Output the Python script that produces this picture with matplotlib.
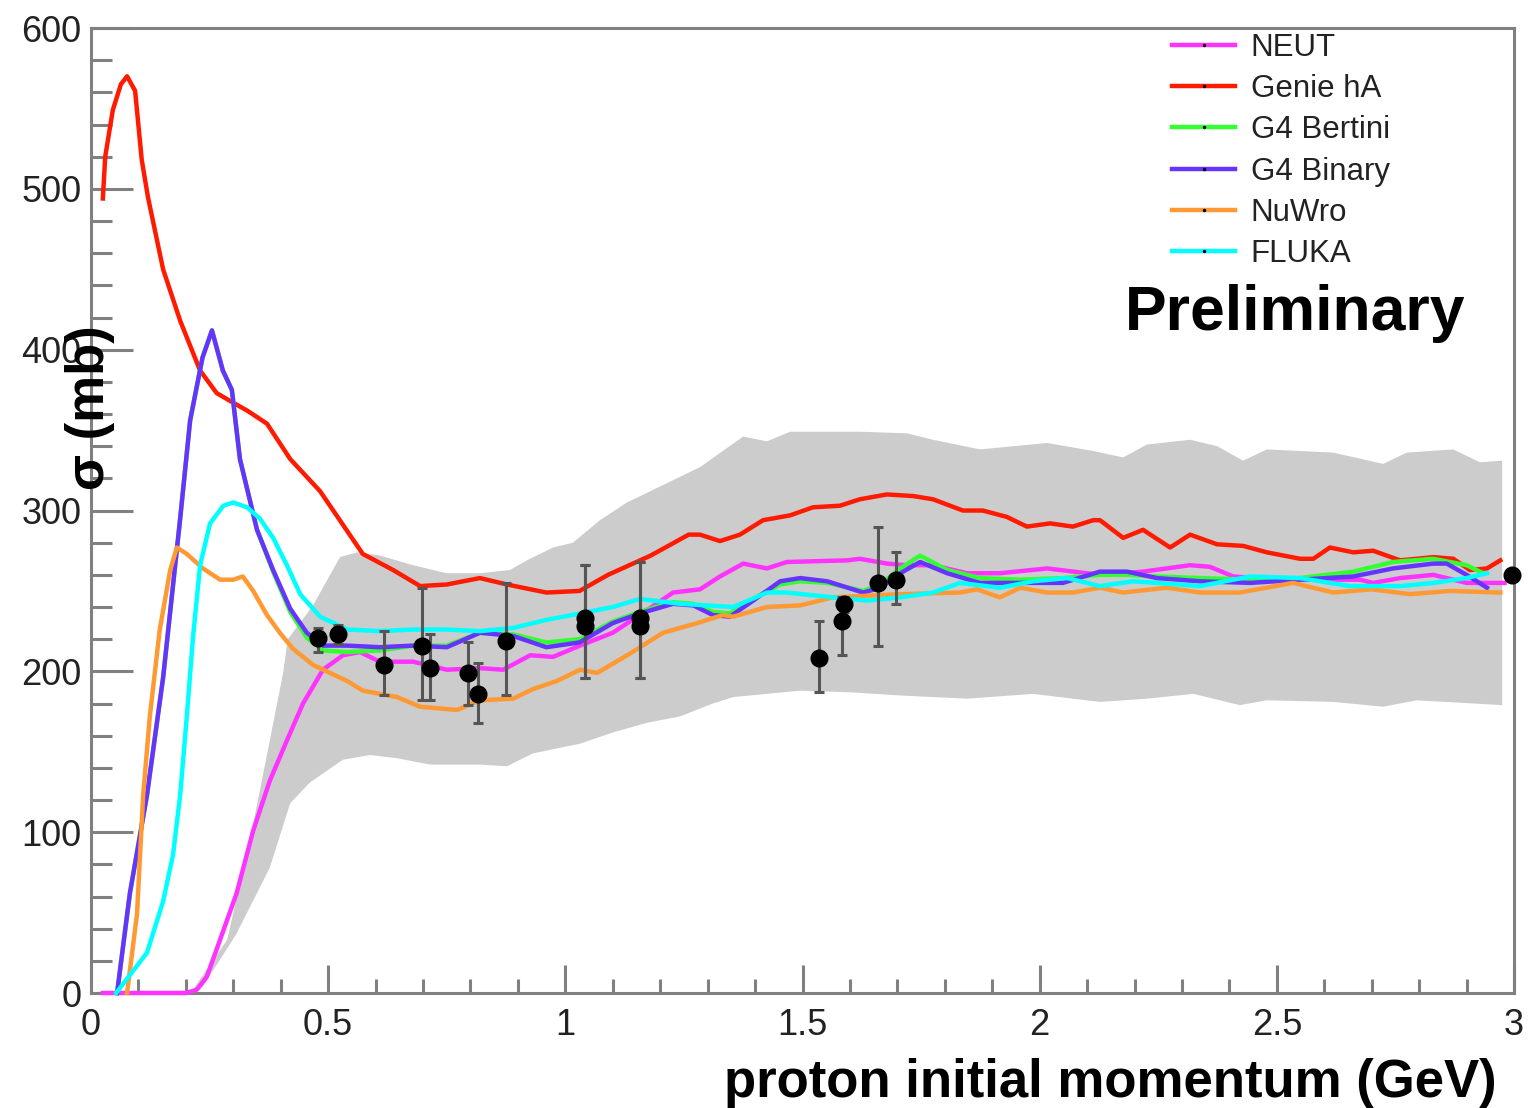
import matplotlib
matplotlib.use("Agg")
import matplotlib.pyplot as plt
from matplotlib.lines import Line2D
from matplotlib.ticker import MultipleLocator

plt.rcParams['font.family'] = ['Liberation Sans', 'DejaVu Sans']

# ---- model curves ----
genie_x = [0.025, 0.03, 0.046, 0.063, 0.076, 0.093, 0.107, 0.12, 0.152, 0.188, 0.23, 0.265, 0.30, 0.33,
           0.371, 0.42, 0.483, 0.573, 0.637, 0.694, 0.75, 0.82, 0.877, 0.96, 1.03, 1.09, 1.18, 1.26,
           1.284, 1.326, 1.368, 1.417, 1.474, 1.522, 1.579, 1.621, 1.678, 1.733, 1.775, 1.838, 1.88,
           1.931, 1.973, 2.022, 2.07, 2.113, 2.127, 2.176, 2.218, 2.275, 2.317, 2.374, 2.429, 2.479,
           2.549, 2.577, 2.612, 2.661, 2.703, 2.76, 2.83, 2.872, 2.907, 2.943, 2.971]
genie_y = [494, 520, 549, 565, 570, 561, 518, 495, 450, 418, 387, 373, 367, 362,
           354, 332, 312, 273, 263, 253, 254, 258, 254, 249, 250, 260, 272, 285,
           285, 281, 285, 294, 297, 302, 303, 307, 310, 309, 307, 300, 300,
           296, 290, 292, 290, 294, 294, 283, 288, 277, 285, 279, 278, 274,
           270, 270, 277, 274, 275, 269, 271, 270, 263, 264, 269]

neut_x = [0.025, 0.2, 0.223, 0.244, 0.272, 0.307, 0.342, 0.377, 0.413, 0.447, 0.489, 0.531, 0.567,
          0.609, 0.679, 0.75, 0.82, 0.869, 0.926, 0.974, 1.031, 1.1, 1.172, 1.227, 1.284, 1.326, 1.375,
          1.425, 1.467, 1.594, 1.621, 1.678, 1.72, 1.775, 1.847, 1.916, 2.016, 2.127, 2.218, 2.317,
          2.359, 2.408, 2.5, 2.675, 2.703, 2.76, 2.83, 2.9, 2.98]
neut_y = [0, 0, 2, 10, 33, 62, 101, 132, 157, 180, 201, 210, 212,
          206, 206, 201, 202, 201, 210, 209, 216, 224, 238, 249, 251, 259, 267,
          264, 268, 269, 270, 267, 266, 266, 261, 261, 264, 260, 262, 266,
          265, 259, 257, 257, 255, 258, 260, 255, 255]

bertini_x = [0.055, 0.082, 0.118, 0.152, 0.188, 0.209, 0.235, 0.255, 0.278, 0.297, 0.314, 0.35, 0.384,
             0.42, 0.455, 0.489, 0.54, 0.609, 0.679, 0.75, 0.82, 0.89, 0.96, 1.03, 1.1, 1.157, 1.227,
             1.27, 1.311, 1.347, 1.396, 1.453, 1.495, 1.552, 1.628, 1.664, 1.706, 1.748, 1.805, 1.874,
             1.959, 2.049, 2.127, 2.184, 2.247, 2.338, 2.444, 2.549, 2.661, 2.745, 2.83, 2.9, 2.935]
bertini_y = [0, 62, 123, 196, 295, 356, 395, 412, 387, 375, 332, 288, 262,
             237, 221, 213, 212, 213, 216, 216, 224, 223, 218, 220, 231, 237, 243,
             242, 237, 236, 245, 254, 256, 255, 250, 254, 264, 272, 263, 258,
             257, 258, 260, 260, 259, 258, 257, 258, 262, 268, 270, 266, 261]

binary_x = [0.055, 0.082, 0.118, 0.152, 0.188, 0.209, 0.235, 0.255, 0.278, 0.297, 0.314, 0.35, 0.384,
            0.42, 0.455, 0.489, 0.54, 0.609, 0.679, 0.75, 0.82, 0.89, 0.96, 1.03, 1.1, 1.157, 1.227,
            1.27, 1.311, 1.347, 1.396, 1.453, 1.495, 1.552, 1.628, 1.664, 1.706, 1.748, 1.805, 1.874,
            1.959, 2.049, 2.127, 2.184, 2.247, 2.338, 2.444, 2.549, 2.661, 2.745, 2.83, 2.858, 2.9, 2.943]
binary_y = [0, 62, 123, 196, 295, 356, 395, 412, 387, 375, 332, 288, 263,
            239, 224, 216, 216, 215, 216, 215, 224, 222, 215, 218, 230, 236, 242,
            241, 235, 234, 244, 256, 258, 256, 249, 252, 261, 268, 261, 255,
            255, 255, 262, 262, 258, 256, 255, 257, 259, 264, 267, 267, 260, 252]

nuwro_x = [0.076, 0.097, 0.11, 0.124, 0.145, 0.167, 0.181, 0.202, 0.236, 0.272, 0.3, 0.32, 0.342,
           0.371, 0.398, 0.426, 0.468, 0.54, 0.573, 0.645, 0.694, 0.772, 0.82, 0.89, 0.932, 0.982,
           1.031, 1.067, 1.136, 1.206, 1.278, 1.332, 1.354, 1.425, 1.495, 1.564, 1.636, 1.706, 1.832,
           1.868, 1.916, 1.959, 2.016, 2.07, 2.127, 2.176, 2.268, 2.338, 2.422, 2.534, 2.619, 2.7,
           2.781, 2.865, 2.971]
nuwro_y = [0, 49, 123, 172, 226, 263, 277, 273, 264, 257, 257, 259, 250,
           235, 224, 214, 204, 194, 188, 184, 178, 176, 182, 183, 189, 194,
           201, 199, 211, 224, 230, 235, 234, 240, 241, 246, 247, 248, 249,
           251, 246, 252, 249, 249, 252, 249, 252, 249, 249, 255, 249, 251,
           248, 250, 249]

fluka_x = [0.053, 0.118, 0.152, 0.173, 0.188, 0.202, 0.215, 0.23, 0.251, 0.279, 0.3, 0.329, 0.356,
           0.384, 0.413, 0.441, 0.483, 0.54, 0.609, 0.679, 0.75, 0.82, 0.89, 0.96, 1.031, 1.1, 1.157,
           1.242, 1.354, 1.425, 1.467, 1.564, 1.636, 1.706, 1.775, 1.832, 1.916, 1.986, 2.058, 2.127,
           2.197, 2.338, 2.444, 2.549, 2.654, 2.76, 2.83, 2.9, 2.943]
fluka_y = [0, 25, 57, 86, 123, 172, 221, 266, 292, 303, 305, 302, 295,
           283, 266, 248, 234, 226, 225, 226, 226, 225, 227, 232, 236, 240, 245,
           242, 240, 249, 249, 246, 244, 246, 249, 255, 252, 256, 258, 253,
           256, 253, 259, 258, 253, 253, 255, 258, 261]

# ---- grey uncertainty band ----
band_hi_x = [0.21, 0.287, 0.335, 0.377, 0.405, 0.415, 0.468, 0.525, 0.561, 0.609, 0.679, 0.75, 0.82,
             0.883, 0.919, 0.974, 1.016, 1.073, 1.13, 1.2, 1.284, 1.375, 1.425, 1.474, 1.621, 1.72,
             1.775, 1.874, 2.016, 2.113, 2.176, 2.226, 2.317, 2.374, 2.429, 2.479, 2.619, 2.724,
             2.774, 2.872, 2.928, 2.975]
band_hi_y = [0, 33, 95, 157, 199, 220, 241, 271, 274, 272, 266, 261, 261,
             263, 269, 277, 280, 294, 305, 315, 327, 346, 343, 349, 349, 348,
             344, 338, 342, 337, 333, 341, 344, 340, 331, 338, 336, 329,
             336, 338, 330, 331]
band_lo_x = [0.21, 0.236, 0.307, 0.377, 0.42, 0.462, 0.531, 0.588, 0.645, 0.715, 0.82, 0.877, 0.932,
             1.031, 1.1, 1.172, 1.242, 1.311, 1.354, 1.425, 1.495, 1.6, 1.706, 1.847, 1.986, 2.127,
             2.226, 2.324, 2.422, 2.479, 2.619, 2.724, 2.795, 2.975]
band_lo_y = [0, 4, 37, 78, 118, 131, 145, 148, 146, 142, 142, 141, 149,
             155, 162, 168, 172, 180, 184, 186, 188, 187, 185, 183, 186, 181,
             183, 186, 179, 182, 181, 178, 182, 179]

# ---- data points ----
data_x = [0.479, 0.521, 0.618, 0.698, 0.715, 0.795, 0.816, 0.875, 1.042, 1.042, 1.158, 1.158,
          1.535, 1.584, 1.588, 1.659, 1.697, 2.996]
data_y = [221, 223, 204, 216, 202, 199, 186, 219, 233, 228, 233, 228,
          208, 231, 242, 255, 257, 260]
err_lo = [9, 6, 19, 34, 20, 20, 18, 34, 37, 32, 37, 32, 21, 21, 5, 39, 15, 0]
err_hi = [6, 6, 21, 36, 21, 19, 19, 36, 33, 38, 35, 40, 23, 15, 4, 35, 17, 0]

models = [
    ("NEUT", neut_x, neut_y, "#ff33ff"),
    ("Genie hA", genie_x, genie_y, "#ff1a00"),
    ("G4 Bertini", bertini_x, bertini_y, "#33ff33"),
    ("G4 Binary", binary_x, binary_y, "#6633ff"),
    ("NuWro", nuwro_x, nuwro_y, "#ff9933"),
    ("FLUKA", fluka_x, fluka_y, "#00ffff"),
]

fig = plt.figure(figsize=(15.28, 11.08), dpi=100)
ax = fig.add_axes([0.05955, 0.10379, 0.9313, 0.8709])

ax.fill(band_hi_x + band_lo_x[::-1], band_hi_y + band_lo_y[::-1],
        color="#cccccc", lw=0, zorder=1)

# curves sit on top of the frame, like in ROOT
handles = []
for name, xs, ys, col in models:
    ax.plot(xs, ys, color=col, lw=3.2, zorder=3, clip_on=False, solid_joinstyle="round")
    handles.append(Line2D([], [], color=col, lw=3.2, marker=".", markersize=3,
                          markerfacecolor="black", markeredgecolor="black", label=name))

ax.errorbar(data_x, data_y, yerr=[err_lo, err_hi], fmt="o", color="black",
            markersize=12, ecolor="#555555", elinewidth=2.2, capsize=3.5, capthick=2.2,
            zorder=4, clip_on=False)

ax.set_xlim(0, 3)
ax.set_ylim(0, 600)
ax.xaxis.set_major_locator(MultipleLocator(0.5))
ax.xaxis.set_minor_locator(MultipleLocator(0.1))
ax.yaxis.set_major_locator(MultipleLocator(100))
ax.yaxis.set_minor_locator(MultipleLocator(20))
ax.set_xticks([0, 0.5, 1, 1.5, 2, 2.5, 3])
ax.set_xticklabels(["0", "0.5", "1", "1.5", "2", "2.5", "3"])

for sp in ax.spines.values():
    sp.set_color("#808080")
    sp.set_linewidth(2.2)

ax.tick_params(axis="both", which="both", direction="in", color="#808080", width=2.2,
               labelcolor="#222222", labelsize=26, top=False, right=False)
ax.tick_params(axis="x", which="major", length=20, pad=11)
ax.tick_params(axis="x", which="minor", length=10)
ax.tick_params(axis="y", which="major", length=30, pad=7)
ax.tick_params(axis="y", which="minor", length=15)

leg = ax.legend(handles=handles, loc="upper left", bbox_to_anchor=(0.76, 0.995),
                frameon=False, fontsize=22.5, handlelength=2.0, handletextpad=0.5,
                labelspacing=0.36, borderpad=0, borderaxespad=0)
for t in leg.get_texts():
    t.set_color("#222222")

ax.text(0.7266, 0.687, "Preliminary", transform=ax.transAxes, fontsize=45,
        fontweight="bold", ha="left", va="baseline", zorder=5)

fig.text(0.9797, 0.0099, "proton initial momentum (GeV)", fontsize=38, fontweight="bold",
         ha="right", va="baseline")
fig.text(0.0589, 0.632, "σ (mb)", fontsize=38, fontweight="bold", rotation=90,
         ha="center", va="center")

fig.savefig("out.png", dpi=100)
